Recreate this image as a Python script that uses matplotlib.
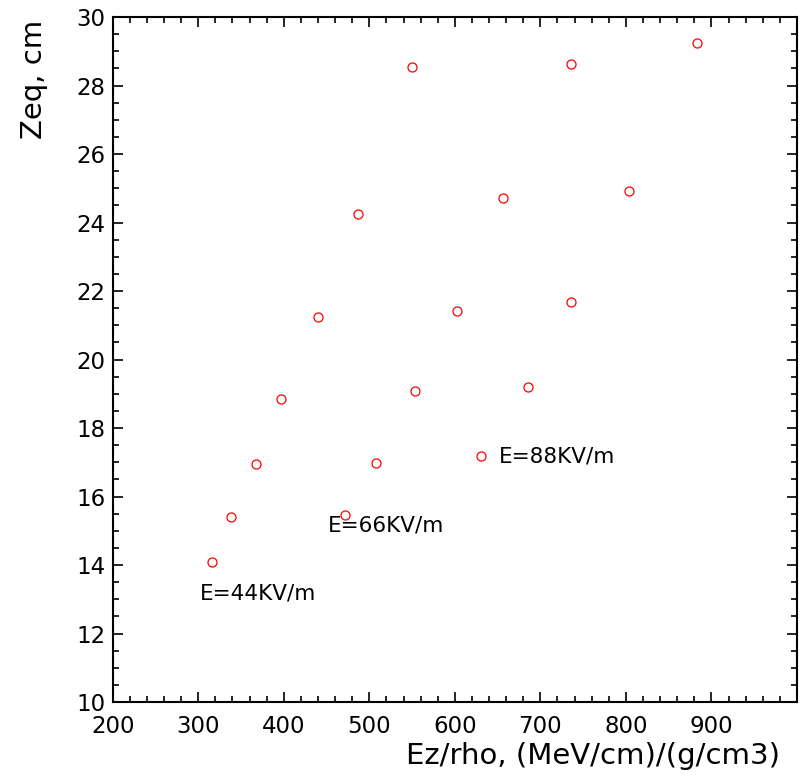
import matplotlib
matplotlib.use("Agg")
import matplotlib.pyplot as plt
from matplotlib.ticker import MultipleLocator, FixedLocator

# E = 44 kV/m
x44 = [316, 338, 367, 397, 440, 487, 550]
y44 = [14.10, 15.39, 16.95, 18.84, 21.24, 24.25, 28.53]
# E = 66 kV/m
x66 = [472, 508, 553, 603, 656, 736]
y66 = [15.47, 16.99, 19.09, 21.41, 24.71, 28.63]
# E = 88 kV/m
x88 = [631, 685, 736, 804, 883]
y88 = [17.19, 19.21, 21.69, 24.91, 29.23]

labels = ["E=44KV/m", "E=66KV/m", "E=88KV/m"]
label_pos = [(302, 13.0), (452, 14.98), (651, 16.98)]

plt.rcParams['font.family'] = ['DejaVu Sans']

fig = plt.figure(figsize=(8.11, 7.81), dpi=100)
ax = fig.add_axes([0.139, 0.1011, 0.8437, 0.877])

for xs, ys in [(x44, y44), (x66, y66), (x88, y88)]:
    ax.plot(xs, ys, linestyle='none', marker='o', markersize=6.5,
            markerfacecolor='none', markeredgecolor='#ff0000', markeredgewidth=0.9)

for txt, (tx, ty) in zip(labels, label_pos):
    ax.text(tx, ty, txt, fontsize=15.5, ha='left', va='baseline')

ax.set_xlim(200, 1000)
ax.set_ylim(10, 30)
ax.xaxis.set_major_locator(FixedLocator(range(200, 1001, 100)))
ax.xaxis.set_minor_locator(MultipleLocator(20))
ax.yaxis.set_major_locator(MultipleLocator(2))
ax.yaxis.set_minor_locator(MultipleLocator(0.5))
ax.set_xticklabels([str(v) if v < 1000 else '' for v in range(200, 1001, 100)])

ax.tick_params(which='both', direction='in', top=True, right=True, width=1.2)
ax.tick_params(which='major', length=7)
ax.tick_params(which='minor', length=4)
ax.tick_params(axis='x', labelsize=16.5, pad=9)
ax.tick_params(axis='y', labelsize=16.5, pad=5)
for s in ax.spines.values():
    s.set_linewidth(1.5)

ax.set_xlabel("Ez/rho, (MeV/cm)/(g/cm3)", fontsize=21, loc='right')
ax.xaxis.set_label_coords(0.975, -0.058)
ax.set_ylabel("Zeq, cm", fontsize=21, loc='top')
ax.yaxis.set_label_coords(-0.095, 0.996)

fig.savefig("out.png", dpi=100)
